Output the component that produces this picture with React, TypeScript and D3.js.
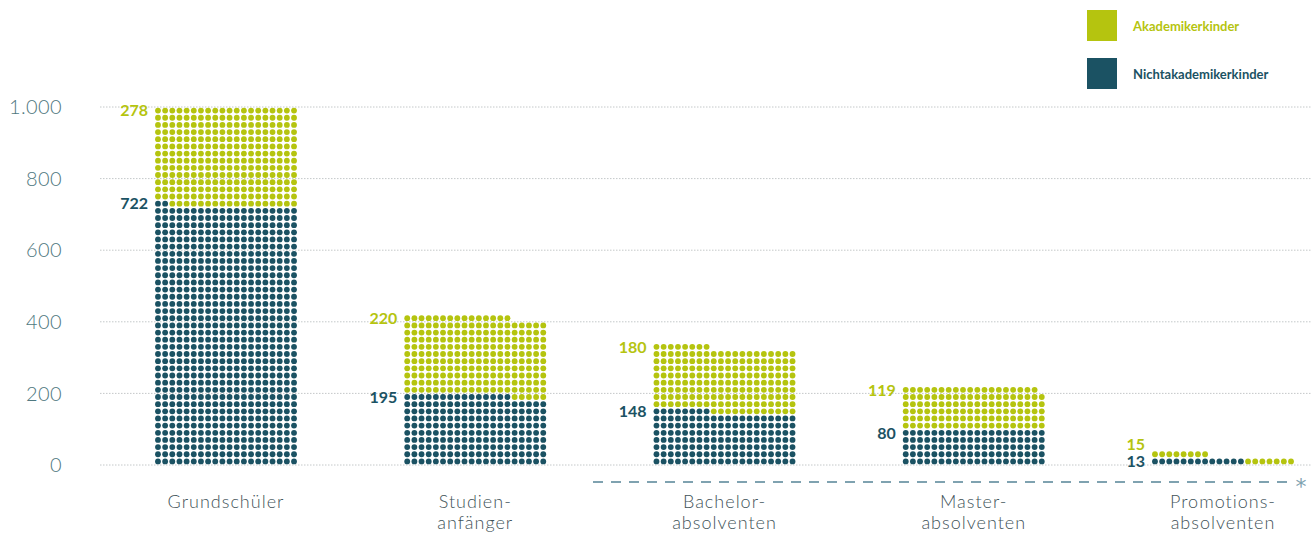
import React from "react";
import * as d3 from "d3";

const categories = ["Grundschüler", "Studien-\nanfänger", "Bachelor-\nabsolventen", "Master-\nabsolventen", "Promotions-\nabsolventen"];
const nichtakademiker = [722, 195, 148, 80, 13];
const akademiker = [278, 220, 180, 119, 15];
// dots actually drawn for Nichtakademikerkinder in the original graphic (Master column shows 5 rows)
const nichtDots = [722, 195, 148, 100, 13];
const yTicks = [0, 200, 400, 600, 800, 1000];
const yTickLabels = ["0", "200", "400", "600", "800", "1.000"];
const legendLabels = ["Akademikerkinder", "Nichtakademikerkinder"];

const W = 1311;
const H = 535;
const YELLOW = "#b5c40f";
const DARK = "#1b5263";
const PER_ROW = 20;
const FONT = "Lato, 'Open Sans', sans-serif";

export default function App() {
  const y = d3.scaleLinear().domain([0, 1000]).range([465, 107]);
  const x = d3.scalePoint<string>().domain(categories).range([226, 1223]);
  const rowPitch = y(0) - y(PER_ROW);
  const colPitch = rowPitch;

  const dots: { cx: number; cy: number; fill: string; key: string }[] = [];
  const labels: { x: number; y: number; text: string; fill: string; key: string }[] = [];

  categories.forEach((cat, i) => {
    const cx0 = (x(cat) as number) - ((PER_ROW - 1) / 2) * colPitch;
    const nd = nichtDots[i];
    const total = nd + akademiker[i];
    for (let k = 0; k < total; k++) {
      const r = Math.floor(k / PER_ROW);
      const c = k % PER_ROW;
      dots.push({
        cx: cx0 + c * colPitch,
        cy: y(r * PER_ROW + PER_ROW / 2),
        fill: k < nd ? DARK : YELLOW,
        key: `${i}-${k}`,
      });
    }
    const darkTopRow = Math.floor((nd - 1) / PER_ROW);
    const yellowTopRow = Math.floor((total - 1) / PER_ROW);
    const darkY = y(darkTopRow * PER_ROW + PER_ROW / 2);
    let yellowY = y(yellowTopRow * PER_ROW + PER_ROW / 2);
    if (yellowY > darkY - 17) yellowY = darkY - 17;
    labels.push({ x: cx0 - 10, y: darkY, text: String(nichtakademiker[i]), fill: DARK, key: `d${i}` });
    labels.push({ x: cx0 - 10, y: yellowY, text: String(akademiker[i]), fill: YELLOW, key: `y${i}` });
  });

  return (
    <svg width={W} height={H} style={{ position: "absolute", left: 0, top: 0, background: "#fff" }} fontFamily={FONT}>
      {/* gridlines */}
      {yTicks.map((t) => (
        <line key={t} x1={100} x2={W} y1={y(t)} y2={y(t)} stroke="#c4c8c9" strokeWidth={1} strokeDasharray="1.5,1.5" />
      ))}
      {/* y tick labels */}
      {yTicks.map((t, i) => (
        <text key={t} x={62} y={y(t)} dy="0.36em" textAnchor="end" fontSize={20} fontWeight={300} fill="#4f7880" letterSpacing={0.4}>
          {yTickLabels[i]}
        </text>
      ))}
      {/* dots */}
      {dots.map((d) => (
        <circle key={d.key} cx={d.cx} cy={d.cy} r={2.9} fill={d.fill} />
      ))}
      {/* value labels */}
      {labels.map((l) => (
        <text key={l.key} x={l.x} y={l.y} dy="0.36em" textAnchor="end" fontSize={16} fontWeight={700} fill={l.fill}>
          {l.text}
        </text>
      ))}
      {/* category labels */}
      {categories.map((cat) => (
        <text key={cat} x={x(cat) as number} y={508} textAnchor="middle" fontSize={18} fontWeight={300} fill="#3f5359" letterSpacing={1}>
          {cat.split("\n").map((line, j) => (
            <tspan key={j} x={x(cat) as number} dy={j === 0 ? 0 : 21}>
              {line}
            </tspan>
          ))}
        </text>
      ))}
      {/* dashed separator */}
      <line x1={593} x2={1290} y1={482} y2={482} stroke="#7fa2b0" strokeWidth={2} strokeDasharray="10,8" />
      <text x={1301} y={494} textAnchor="middle" fontSize={22} fontFamily="'DejaVu Sans', sans-serif" fill="#7fa2b0">*</text>
      {/* legend */}
      {legendLabels.map((lab, i) => (
        <g key={lab} transform={`translate(1087,${10 + i * 48})`}>
          <rect width={30} height={31} fill={i === 0 ? YELLOW : DARK} />
          <text x={46} y={16} dy="0.35em" fontSize={13} fontWeight={700} fill={i === 0 ? YELLOW : DARK}>
            {lab}
          </text>
        </g>
      ))}
    </svg>
  );
}
